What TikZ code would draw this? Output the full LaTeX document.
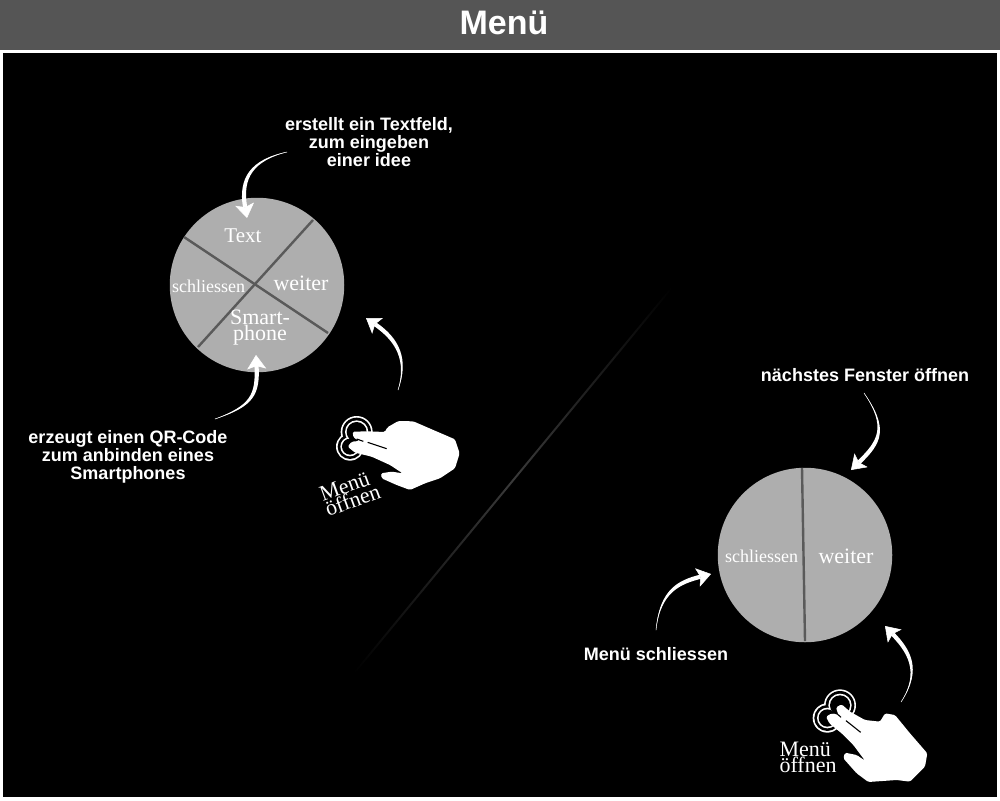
\documentclass[tikz,border=0pt]{standalone}
\usepackage{fontspec}
\setmainfont{Liberation Serif}
\newfontfamily\hfont{Liberation Sans}
\usetikzlibrary{arrows.meta,calc}
\definecolor{barcol}{HTML}{555555}
\definecolor{disc}{HTML}{AEAEAE}
\definecolor{spoke}{HTML}{5A5A5A}
\definecolor{faint}{HTML}{3A3A3A}
\tikzset{
  note/.style={text=white,font=\hfont\bfseries\fontsize{18}{18}\selectfont,align=center,inner sep=0pt},
  seg/.style={text=white,inner sep=0pt,align=center},
  discbig/.style={circle,fill=disc,minimum size=174.5pt,inner sep=0pt},
  spokeline/.style={draw=spoke,line width=2.4pt},
  curve/.style={draw=white,line cap=round},
  tipped/.style={-{Stealth[length=14pt,width=19pt,inset=3pt]}},
}
\newcommand{\curvearrow}[4]{%
  \coordinate (B) at ($(#4)!11pt!(#3)$);
  \coordinate (BL) at ($(B)!2.1pt!90:(#3)$);
  \coordinate (BR) at ($(B)!2.1pt!-90:(#3)$);
  \coordinate (CL) at ($(#3)!2.1pt!-90:(B)$);
  \coordinate (CR) at ($(#3)!2.1pt!90:(B)$);
  \coordinate (DL) at ($(#2)!1.8pt!-90:(#3)$);
  \coordinate (DR) at ($(#2)!1.8pt!90:(#3)$);
  \fill[white] (#1) .. controls (DL) and (CL) .. (BL) -- (BR) .. controls (CR) and (DR) .. (#1);
  \draw[curve,tipped,line width=.5pt] (#1) .. controls (#2) and (#3) .. (#4);
}
\newcommand{\tworings}[5]{%
  \foreach \d/\c in {0/white,5/black,13/white,18/black}{
    \fill[\c] (#1,#2) circle ({48-\d});
    \fill[\c] (#3,#4) circle ({#5-\d});
  }
}
\begin{document}
\begin{tikzpicture}[x=1pt,y=-1pt]
\useasboundingbox (0,0) rectangle (1000,800);
\fill[white] (0,0) rectangle (1000,800);
\fill[barcol] (0,0) rectangle (1000,50);
\fill[black] (3,53) rectangle (997,797);
\node[text=white,font=\hfont\bfseries\fontsize{34}{36}\selectfont,inner sep=0pt] (title) at (504,22.5) {Menü};

% faint diagonal
\node[rotate=50.5,minimum width=500pt,minimum height=2pt,inner sep=0pt,left color=black,right color=black,middle color=faint] (diag) at (512.5,481) {};

% left disc
\node[discbig] (d1) at (257,285) {};
\coordinate (s1a) at (184,237); \coordinate (s1b) at (328,333);
\coordinate (s2a) at (313,220); \coordinate (s2b) at (198,347);
\draw[spokeline] (s1a) -- (s1b);
\draw[spokeline] (s2a) -- (s2b);
\node[seg,font=\fontsize{21}{21}\selectfont] (ltext) at (243,236) {Text};
\node[seg,font=\fontsize{18}{18}\selectfont] (lclose) at (208.5,286.5) {schliessen};
\node[seg,font=\fontsize{22}{22}\selectfont] (lnext) at (301,283) {weiter};
\node[seg,font=\fontsize{22}{16}\selectfont] (lphone) at (260,327.5) {Smart-\\phone};

% right disc
\node[discbig] (d2) at (805,555) {};
\coordinate (s3a) at (802,468); \coordinate (s3b) at (805,641);
\draw[spokeline] (s3a) -- (s3b);
\node[seg,font=\fontsize{18}{18}\selectfont] (rclose) at (761.5,556.5) {schliessen};
\node[seg,font=\fontsize{22}{22}\selectfont] (rnext) at (846,556) {weiter};

% notes
\node[note] (n1) at (369,142.5) {erstellt ein Textfeld,\\zum eingeben\hspace{5pt}\\einer idee};
\node[note] (n2) at (128,456.5) {erzeugt einen QR-Code\\zum anbinden eines\\Smartphones};
\node[note] (n3) at (865,375) {nächstes Fenster öffnen};
\node[note] (n4) at (656,654) {Menü schliessen};

% arrows
\coordinate (a1s) at (287,152); \coordinate (a1e) at (247,218);
\coordinate (a2s) at (215,419); \coordinate (a2e) at (256,355);
\coordinate (a3s) at (398,390); \coordinate (a3e) at (366,318);
\coordinate (a4s) at (864,393); \coordinate (a4e) at (851,470);
\coordinate (a5s) at (656,630); \coordinate (a5e) at (711,574);
\coordinate (a6s) at (901,702); \coordinate (a6e) at (885,626);
\curvearrow{a1s}{252,160}{240,178}{a1e}
\curvearrow{a2s}{252,406}{258,395}{a2e}
\curvearrow{a3s}{408,360}{398,340}{a3e}
\curvearrow{a4s}{888,428}{880,442}{a4e}
\curvearrow{a5s}{660,590}{680,582}{a5e}
\curvearrow{a6s}{922,670}{908,650}{a6e}

% left hand
\begin{scope}[shift={(300,390)},x=.3333pt,y=-.3333pt]
\tworings{170}{126}{150}{170}{42}
\fill[white,rounded corners=1.5pt] (158,125) -- (205,124) -- (255,126) -- (262,112) -- (295,93) -- (340,94) -- (400,120) -- (465,148) -- (479,190) -- (465,235) -- (420,265) -- (375,280) -- (330,300) -- (290,285) -- (245,265) -- (243,250) -- (275,245) -- (308,250) -- (270,225) -- (215,200) -- (165,188) -- (143,170) -- (155,155) -- (178,153) -- (160,142) -- cycle;
\draw[black,line width=1.1pt] (170,147) -- (190,154);
\draw[black,line width=1.1pt] (203,157) -- (260,176);
\end{scope}

% right hand
\begin{scope}[shift={(770,670)},x=.3333pt,y=-.3333pt]
\tworings{210}{106}{172}{144}{44}
\fill[white,rounded corners=1.5pt] (198,112) -- (215,103) -- (240,125) -- (285,150) -- (330,155) -- (345,130) -- (375,135) -- (420,190) -- (472,250) -- (465,290) -- (420,335) -- (380,330) -- (295,336) -- (260,310) -- (220,265) -- (225,248) -- (260,255) -- (285,272) -- (250,225) -- (215,190) -- (178,160) -- (168,140) -- (185,130) -- (205,135) -- cycle;
\draw[black,line width=1.1pt] (200,130) -- (213,142);
\draw[black,line width=1.1pt] (228,152) -- (272,187);
\end{scope}

\node[seg,align=left,rotate=20,font=\fontsize{22}{16}\selectfont] (m1) at (350,493) {Menü\\öffnen};
\node[seg,align=left,font=\fontsize{22}{16}\selectfont] (m2) at (808,757) {Menü\\öffnen};
\end{tikzpicture}
\end{document}
